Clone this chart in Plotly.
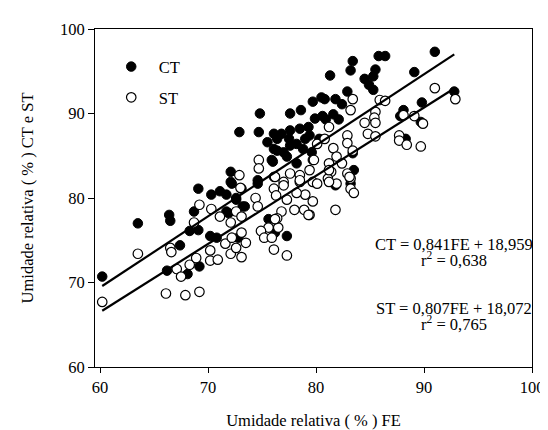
import numpy as np
import plotly.graph_objects as go

# ---- data ----
ct_fe = [60.2, 63.5, 66.4, 66.5, 69.1, 68.7, 68.3, 69.1, 67.4, 66.2, 68.1, 69.2, 70.3, 71.1, 71.7, 72.2,
         72.6, 71.7, 70.2, 70.8, 72.9, 74.7, 76.1, 75.5, 76.4, 76.0, 72.1, 72.1, 73.1, 74.6, 72.6, 73.4,
         71.9, 74.8, 77.6, 78.6, 79.7, 80.5, 79.9, 76.8, 77.6, 78.5, 79.3, 79.4, 76.4, 77.5, 78.2, 79.0,
         80.3, 76.1, 77.0, 77.6, 78.8, 79.6, 75.9, 77.3, 78.2, 79.7, 74.6, 76.1, 85.8, 86.4, 91.0, 83.4,
         83.2, 85.5, 85.3, 81.3, 84.5, 84.9, 85.3, 89.1, 82.9, 81.8, 80.8, 82.4, 81.6, 82.1, 80.9, 88.1,
         87.8, 89.8, 92.8, 83.4, 83.5, 88.3, 89.7, 83.2, 77.3, 76.2, 75.6, 81.8, 73.2, 72.8, 80.6]
ct_val = [70.7, 77.0, 78.0, 77.3, 81.1, 78.4, 76.1, 76.2, 74.4, 71.4, 71.0, 71.9, 80.4, 80.8, 80.4, 81.7,
          79.8, 78.4, 75.5, 75.3, 87.8, 87.8, 87.6, 86.6, 85.6, 84.3, 83.1, 81.9, 81.1, 81.7, 80.0, 79.0,
          78.2, 90.0, 90.0, 90.4, 91.4, 91.9, 89.4, 87.6, 88.0, 88.2, 88.4, 87.4, 87.0, 87.0, 86.4, 87.0,
          87.0, 85.8, 85.4, 86.2, 85.8, 85.4, 84.5, 84.9, 84.1, 84.5, 82.1, 82.5, 96.8, 96.8, 97.3, 96.2,
          95.1, 95.2, 94.4, 94.5, 94.1, 93.4, 92.8, 94.9, 92.6, 91.7, 91.7, 91.1, 89.9, 89.3, 89.3, 90.4,
          89.7, 91.3, 92.6, 85.3, 83.3, 87.0, 89.0, 81.7, 75.5, 75.9, 77.5, 81.5, 79.0, 75.3, 89.7]

st_fe = [60.2, 63.5, 66.5, 66.6, 66.1, 67.9, 69.2, 67.1, 67.5, 68.3, 68.9, 68.7, 69.2, 70.3, 71.1, 70.2,
         70.2, 70.9, 71.6, 72.1, 72.2, 72.1, 72.6, 74.7, 74.7, 72.9, 73.0, 73.1, 74.4, 74.6, 75.6, 76.5,
         76.2, 76.1, 76.3, 76.8, 76.4, 77.6, 78.5, 79.4, 79.8, 80.1, 77.0, 78.5, 79.7, 91.0, 92.9, 83.4,
         83.2, 85.9, 86.4, 85.5, 85.4, 84.5, 85.5, 84.8, 85.5, 88.1, 89.1, 89.9, 87.7, 87.7, 88.4, 89.7,
         82.9, 82.9, 81.6, 83.4, 81.9, 82.4, 81.2, 81.4, 82.9, 83.2, 81.1, 81.9, 80.8, 81.2, 81.8, 79.4,
         78.9, 78.0, 79.7, 79.0, 78.2, 77.3, 76.2, 74.9, 75.2, 75.9, 76.1, 77.3, 73.5, 73.1, 73.1, 72.6,
         77.0, 78.5, 80.1, 81.2, 81.2, 83.1, 83.2, 83.5, 79.3]
st_val = [67.7, 73.4, 74.1, 73.6, 68.7, 68.5, 68.9, 71.6, 70.7, 72.1, 72.9, 77.1, 79.2, 78.7, 77.8, 73.8,
          72.6, 72.7, 74.6, 73.4, 75.3, 77.1, 78.4, 84.5, 83.5, 82.7, 81.2, 77.8, 80.0, 79.0, 76.5, 76.5,
          82.5, 81.1, 80.3, 78.4, 77.6, 82.9, 82.7, 83.3, 84.5, 86.4, 81.9, 81.9, 81.9, 93.0, 91.7, 91.7,
          90.4, 91.6, 91.5, 90.2, 89.5, 88.9, 88.9, 87.6, 87.3, 89.8, 89.7, 88.8, 87.4, 86.8, 86.3, 86.1,
          87.4, 86.5, 85.9, 85.6, 84.9, 84.1, 84.1, 83.1, 82.9, 82.3, 82.3, 81.7, 87.0, 88.4, 78.6, 78.0,
          78.6, 78.6, 79.6, 80.4, 80.6, 79.8, 77.5, 76.1, 75.3, 75.3, 73.9, 73.2, 74.7, 73.0, 75.9, 74.1,
          81.5, 82.1, 81.7, 83.3, 81.9, 82.5, 81.1, 80.6, 78.0]

ct_slope, ct_intercept, ct_r2 = 0.841, 18.959, 0.638
st_slope, st_intercept, st_r2 = 0.807, 18.072, 0.765

x_ticks = [60, 70, 80, 90, 100]
y_ticks = [60, 70, 80, 90, 100]

FONT = "Liberation Serif"
FS = 16.5


def fmt(v, d=3):
    return f"{v:.{d}f}".replace(".", ",")


fig = go.Figure()

fig.add_trace(go.Scatter(
    x=ct_fe, y=ct_val, mode="markers", name="CT", legend="legend",
    marker=dict(symbol="circle", size=9.5, color="black", line=dict(color="black", width=1)),
))
fig.add_trace(go.Scatter(
    x=st_fe, y=st_val, mode="markers", name="ST", legend="legend2",
    marker=dict(symbol="circle", size=9.5, color="white", line=dict(color="black", width=1.2)),
))

ct_x = np.array([min(ct_fe), max(ct_fe)])
st_x = np.array([min(st_fe), max(st_fe)])
fig.add_trace(go.Scatter(x=ct_x, y=ct_slope * ct_x + ct_intercept, mode="lines",
                         line=dict(color="black", width=2.2), showlegend=False, hoverinfo="skip"))
fig.add_trace(go.Scatter(x=st_x, y=st_slope * st_x + st_intercept, mode="lines",
                         line=dict(color="black", width=2.2), showlegend=False, hoverinfo="skip"))

ann_font = dict(family=FONT, size=FS, color="black")
anns = [
    (74.5, f"CT = {fmt(ct_slope)}FE + {fmt(ct_intercept)}"),
    (72.75, f"r<sup>2</sup> = {fmt(ct_r2)}"),
    (66.9, f"ST = {fmt(st_slope)}FE + {fmt(st_intercept)}"),
    (65.15, f"r<sup>2</sup> = {fmt(st_r2)}"),
]
for yv, txt in anns:
    fig.add_annotation(x=92.75, y=yv, xref="x", yref="y", text=txt, showarrow=False,
                       xanchor="center", yanchor="middle", font=ann_font)

axis_common = dict(
    showgrid=False, zeroline=False, showline=True, linecolor="black", linewidth=1,
    mirror=True, ticks="outside", tickcolor="black", tickwidth=1,
    tickfont=dict(family=FONT, size=FS, color="black"),
)

fig.update_layout(
    width=548, height=430,
    margin=dict(l=87, r=14, t=19, b=67),
    paper_bgcolor="white", plot_bgcolor="white",
    font=dict(family=FONT, size=FS, color="black"),
    xaxis=dict(range=[59.53, 100], tickvals=x_ticks, ticklen=5,
               title=dict(text="Umidade relativa ( % ) FE", font=dict(family=FONT, size=FS), standoff=18),
               **axis_common),
    yaxis=dict(range=[60, 100], tickvals=y_ticks, ticklen=6,
               title=dict(text="Umidade relativa ( % ) CT e ST", font=dict(family=FONT, size=FS), standoff=22),
               **axis_common),
    legend=dict(x=0.02, y=0.888, xanchor="left", yanchor="middle", bgcolor="rgba(0,0,0,0)",
                font=dict(family=FONT, size=FS), itemwidth=45),
    legend2=dict(x=0.02, y=0.797, xanchor="left", yanchor="middle", bgcolor="rgba(0,0,0,0)",
                 font=dict(family=FONT, size=FS), itemwidth=45),
    showlegend=True,
)

fig.write_html("out.html")
